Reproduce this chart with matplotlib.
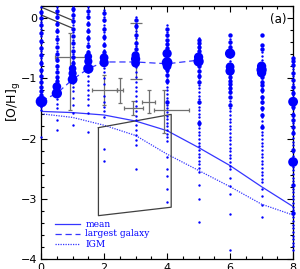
import matplotlib
matplotlib.use("Agg")
import matplotlib.pyplot as plt
from matplotlib.ticker import MultipleLocator

# ---------------- data ----------------
redshift_cols = [0, 0.5, 1, 1.5, 2, 3, 4, 5, 6, 7, 8]

small_pts = {
    0: [0.18, 0.12, 0.06, 0.00, -0.06, -0.12, -0.18, -0.24, -0.30, -0.36, -0.42, -0.48, -0.54, -0.60,
        -0.66, -0.72, -0.78, -0.84, -0.90, -0.96, -1.02, -1.08, -1.14, -1.20, -1.26, -1.32, -1.47, -1.53, -1.97],
    0.5: [0.18, 0.12, 0.06, 0.00, -0.06, -0.12, -0.18, -0.24, -0.30, -0.36, -0.42, -0.48, -0.54, -0.60,
          -0.66, -0.72, -0.78, -0.84, -0.90, -0.96, -1.02, -1.08, -1.35, -1.42, -1.50, -1.70, -1.86],
    1: [0.18, 0.12, 0.06, 0.00, -0.06, -0.12, -0.18, -0.24, -0.30, -0.36, -0.42, -0.48, -0.54, -0.60,
        -0.66, -0.72, -0.78, -0.84, -0.90, -0.96, -1.02, -1.08, -1.14, -1.22, -1.32, -1.45, -1.58, -1.78],
    1.5: [0.18, 0.12, 0.06, 0.00, -0.06, -0.12, -0.18, -0.24, -0.30, -0.36, -0.42, -0.48, -0.54, -0.60,
          -0.66, -0.72, -0.78, -0.84, -0.90, -0.96, -1.05, -1.12, -1.20, -1.28, -1.35, -1.45, -1.58, -1.89],
    2: [0.13, 0.07, 0.01, -0.05, -0.11, -0.17, -0.23, -0.29, -0.35, -0.41, -0.47, -0.53, -0.59, -0.65,
        -0.71, -0.77, -0.83, -0.90, -1.00, -1.10, -1.30, -1.40, -1.48, -1.55, -1.65, -2.18, -2.38],
    3: [0.02, -0.04, -0.10, -0.16, -0.22, -0.28, -0.34, -0.40, -0.46, -0.52, -0.58, -0.64, -0.70, -0.76,
        -0.82, -0.90, -0.98, -1.06, -1.14, -1.22, -1.30, -1.38, -1.46, -1.54, -1.62, -1.70, -1.78, -1.86,
        -1.94, -2.02, -2.10, -2.50],
    4: [-0.12, -0.18, -0.24, -0.30, -0.36, -0.42, -0.48, -0.54, -0.60, -0.66, -0.72, -0.78, -0.84, -0.90,
        -0.96, -1.02, -1.08, -1.14, -1.20, -1.26, -1.32, -1.38, -1.44, -1.50, -1.56, -1.62, -1.68, -1.74,
        -1.80, -1.86, -1.92, -1.98, -2.04, -2.30, -2.50, -2.62, -2.83, -3.05],
    5: [-0.33, -0.39, -0.45, -0.51, -0.57, -0.63, -0.69, -0.75, -0.81, -0.87, -0.93, -0.99, -1.05, -1.11,
        -1.17, -1.23, -1.29, -1.35, -1.41, -1.47, -1.53, -1.59, -1.65, -1.71, -1.77, -1.83, -1.89, -1.95,
        -2.01, -2.07, -2.13, -2.19, -2.25, -2.31, -2.37, -2.43, -2.49, -2.55, -2.77, -3.00, -3.39],
    6: [-0.29, -0.35, -0.41, -0.47, -0.53, -0.59, -0.65, -0.71, -0.77, -0.83, -0.89, -0.95, -1.01, -1.07,
        -1.13, -1.19, -1.25, -1.31, -1.37, -1.43, -1.49, -1.55, -1.61, -1.67, -1.73, -1.79, -1.85, -1.91,
        -1.97, -2.03, -2.09, -2.15, -2.21, -2.27, -2.33, -2.39, -2.45, -2.51, -2.66, -2.78, -2.92, -3.26, -3.85],
    7: [-0.29, -0.45, -0.51, -0.57, -0.63, -0.69, -0.75, -0.81, -0.87, -0.93, -0.99, -1.05, -1.11, -1.17,
        -1.23, -1.29, -1.35, -1.41, -1.47, -1.53, -1.59, -1.65, -1.71, -1.77, -1.83, -1.89, -1.95, -2.01,
        -2.07, -2.13, -2.19, -2.25, -2.31, -2.37, -2.43, -2.49, -2.55, -2.61, -2.67, -2.72, -2.83, -2.95,
        -3.10, -3.30],
    8: [-0.67, -0.73, -0.79, -0.85, -0.91, -0.97, -1.03, -1.09, -1.15, -1.21, -1.27, -1.33, -1.39, -1.45,
        -1.51, -1.57, -1.63, -1.69, -1.75, -1.81, -1.87, -1.93, -1.99, -2.05, -2.11, -2.17, -2.23, -2.29,
        -2.35, -2.41, -2.47, -2.53, -2.59, -2.65, -2.71, -2.77, -2.83, -2.89, -2.95, -3.01, -3.07, -3.13,
        -3.19, -3.25, -3.31, -3.37, -3.43, -3.49, -3.55, -3.61, -3.67, -3.73, -3.79, -3.85],
}

medium_pts = {
    0: [0.10, 0.00, -0.12, -0.25, -0.38, -0.50, -0.62, -0.74, -0.86, -0.96, -1.06, -1.14, -1.22, -1.28],
    0.5: [0.12, 0.02, -0.10, -0.22, -0.35, -0.48, -0.60, -0.70, -0.80, -0.90, -0.98, -1.05],
    1: [0.15, 0.05, -0.05, -0.18, -0.30, -0.42, -0.55, -0.65, -0.74],
    1.5: [0.12, 0.02, -0.10, -0.22, -0.34, -0.46, -0.56],
    2: [0.08, -0.04, -0.18, -0.32, -0.45, -0.57],
    3: [-0.04, -0.14, -0.28, -0.42, -0.52],
    4: [-0.18, -0.28, -0.36, -0.44, -0.50, -0.86, -0.95, -1.05, -1.40],
    5: [-0.37, -0.42, -0.48, -0.54, -0.80, -0.88, -0.96, -1.07, -1.40, -1.75],
    6: [-0.29, -0.40, -0.48, -0.98, -1.04, -1.10, -1.16, -1.23, -1.31, -1.45],
    7: [-0.29, -0.45, -0.51, -0.98, -1.06, -1.12, -1.20, -1.31, -1.39, -1.50, -1.61, -1.81],
    8: [-0.67, -0.72, -0.78, -0.92, -1.03, -1.14, -1.25, -1.48, -1.61, -1.70, -1.81, -1.91, -2.19, -2.77, -3.23],
}

big_pts = {
    0: [-1.38], 0.5: [-1.14, -1.25], 1: [-0.84, -0.92, -1.02], 1.5: [-0.64, -0.72, -0.84],
    2: [-0.66, -0.74], 3: [-0.62, -0.68, -0.75], 4: [-0.59, -0.74, -0.80], 5: [-0.65, -0.72],
    6: [-0.59, -0.81, -0.88], 7: [-0.80, -0.86, -0.91], 8: [-1.39, -2.39],
}
big_sizes = {
    0: [70], 0.5: [40, 55], 1: [30, 35, 50], 1.5: [30, 35, 55], 2: [40, 45], 3: [35, 45, 40],
    4: [45, 60, 40], 5: [45, 55], 6: [55, 40, 45], 7: [45, 55, 45], 8: [50, 50],
}

# lines
line_z = [0, 1, 2, 3, 4, 5, 6, 7, 8]
mean_oh = [-1.55, -1.57, -1.61, -1.71, -1.87, -2.15, -2.45, -2.80, -3.13]
igm_oh = [-1.59, -1.65, -1.78, -1.95, -2.26, -2.53, -2.80, -3.09, -3.27]
largest_z = [0, 0.5, 1, 1.5, 2, 3, 4, 5]
largest_oh = [-1.38, -1.25, -1.02, -0.84, -0.73, -0.73, -0.76, -0.70]

# observational error bars
obs_z = [0.92, 3.0, 2.0, 2.5, 2.93, 3.41, 3.91]
obs_oh = [-0.65, -0.55, -1.20, -1.20, -1.49, -1.39, -1.53]
obs_zerr_lo = [0.48, 0.0, 0.40, 0.10, 0.30, 0.21, 0.32]
obs_zerr_hi = [0.48, 0.0, 0.40, 0.10, 0.30, 0.21, 0.79]
obs_oherr_lo = [0.88, 0.47, 0.25, 0.21, 0.12, 0.19, 0.38]
obs_oherr_hi = [0.40, 0.47, 0.25, 0.21, 0.12, 0.19, 0.33]
obs_caps = [1.5, 4.5, 1.5, 1.5, 1.5, 1.5, 1.5]

# constraint box and diagonal bands
box_z = [1.82, 1.82, 4.13, 4.13, 1.82]
box_oh = [-1.82, -3.28, -3.14, -1.60, -1.82]
band1_z = [0.0, 1.0]
band1_oh = [0.18, -0.04]
band2_z = [0.0, 1.0]
band2_oh = [0.05, -0.17]

legend_labels = ["mean", "largest galaxy", "IGM"]

# ---------------- plot ----------------
fig = plt.figure(figsize=(3.0, 2.69), dpi=100)
ax = fig.add_axes([0.137, 0.037, 0.840, 0.941])

blue = "#0000ff"
lblue = "#3535ff"

for z in redshift_cols:
    ys = small_pts[z]
    ax.scatter([z] * len(ys), ys, s=3, color=blue, lw=0, clip_on=False, zorder=3)
    ym = medium_pts[z]
    ax.scatter([z] * len(ym), ym, s=10, color=blue, lw=0, clip_on=False, zorder=3)
    yb = big_pts[z]
    ax.scatter([z] * len(yb), yb, s=big_sizes[z], color=blue, lw=0, clip_on=False, zorder=3)

ax.plot(line_z, mean_oh, color=lblue, lw=0.9, zorder=2)
ax.plot(largest_z, largest_oh, color=lblue, lw=0.9, dashes=(5, 3), zorder=2)
ax.plot(line_z, igm_oh, color=lblue, lw=0.9, ls=(0, (1, 1)), zorder=2)

for i in range(len(obs_z)):
    xe = None
    if obs_zerr_lo[i] > 0 or obs_zerr_hi[i] > 0:
        xe = [[obs_zerr_lo[i]], [obs_zerr_hi[i]]]
    ax.errorbar([obs_z[i]], [obs_oh[i]], xerr=xe,
                yerr=[[obs_oherr_lo[i]], [obs_oherr_hi[i]]],
                fmt="none", ecolor="#707070", elinewidth=0.9, capsize=obs_caps[i],
                capthick=0.9, zorder=2.5)

ax.plot(box_z, box_oh, color="#404040", lw=0.9, zorder=2)
ax.plot(band1_z, band1_oh, color="#404040", lw=0.9, zorder=2)
ax.plot(band2_z, band2_oh, color="#404040", lw=0.9, zorder=2)

ax.set_xlim(0, 8)
ax.set_ylim(-4, 0.2)

ax.xaxis.set_major_locator(MultipleLocator(2))
ax.xaxis.set_minor_locator(MultipleLocator(0.5))
ax.yaxis.set_major_locator(MultipleLocator(1))
ax.yaxis.set_minor_locator(MultipleLocator(0.2))
ax.tick_params(which="both", direction="in", top=True, right=True, labelsize=8, width=0.8)
ax.tick_params(which="major", length=4.5, pad=3)
ax.tick_params(which="minor", length=2.3)
for sp in ax.spines.values():
    sp.set_linewidth(0.9)

ax.set_ylabel(r"$[\mathrm{O/H}]_{\mathrm{g}}$", fontsize=9)
ax.yaxis.set_label_coords(-0.07, 0.62)

ax.text(0.975, 0.945, "(a)", transform=ax.transAxes, ha="right", va="center", fontsize=8.5)

# legend (drawn manually)
leg_styles = [dict(ls="-"), dict(dashes=(5, 3)), dict(ls=(0, (1, 1)))]
leg_y = [0.138, 0.099, 0.059]
for lab, st, yy in zip(legend_labels, leg_styles, leg_y):
    ax.plot([0.056, 0.156], [yy, yy], transform=ax.transAxes, color=lblue, lw=0.9, **st)
    ax.text(0.175, yy, lab, transform=ax.transAxes, color=blue, fontsize=6.5,
            va="center", ha="left", family="DejaVu Serif")

fig.savefig("out.png", dpi=100)
